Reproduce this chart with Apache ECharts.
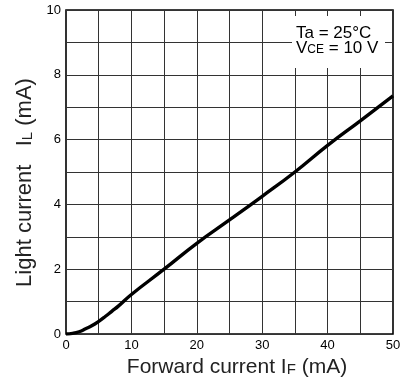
<!DOCTYPE html>
<html>
<head>
<meta charset="utf-8">
<script src="https://cdn.jsdelivr.net/npm/echarts@6/dist/echarts.min.js"></script>
<style>
html,body{margin:0;padding:0;background:#fff;}
#c{width:404px;height:383px;}
</style>
</head>
<body>
<div id="c"></div>
<script>
// Forward current IF (mA)
var forwardCurrent = [0, 1, 2, 3, 4, 5, 6, 7, 8, 10, 15, 20, 25, 30, 35, 40, 45, 50];
// Light current IL (mA)
var lightCurrent = [0, 0.02, 0.07, 0.16, 0.26, 0.39, 0.54, 0.7, 0.86, 1.22, 2.0, 2.8, 3.52, 4.25, 5.0, 5.82, 6.58, 7.35];
var xTickLabels = [0, 10, 20, 30, 40, 50];
var yTickLabels = [0, 2, 4, 6, 8, 10];

var FONT = '"Liberation Sans", Arial, Helvetica, sans-serif';
var chart = echarts.init(document.getElementById('c'), null, {renderer: 'canvas'});

var data = forwardCurrent.map(function (x, i) { return [x, lightCurrent[i]]; });

chart.setOption({
  animation: false,
  backgroundColor: '#fff',
  grid: {
    left: 66, right: 11, top: 10, bottom: 49,
    show: true, borderColor: '#000', borderWidth: 1.6, backgroundColor: 'transparent'
  },
  xAxis: {
    type: 'value', min: 0, max: 50, interval: 5,
    axisLine: {show: false},
    axisTick: {show: false},
    splitLine: {show: true, lineStyle: {color: '#333', width: 1}},
    axisLabel: {
      color: '#000', fontSize: 13, fontFamily: FONT, margin: 5,
      formatter: function (v) { return xTickLabels.indexOf(v) >= 0 ? String(v) : ''; }
    },
    name: '{n|Forward current I}{s|F}{n| (mA)}',
    nameLocation: 'middle',
    nameGap: 19,
    nameTextStyle: {
      padding: [0, 0, 0, 15],
      rich: {
        n: {fontSize: 21, fontFamily: FONT, color: '#222'},
        s: {fontSize: 15, fontFamily: FONT, color: '#222', padding: [4, 0, 0, 0]}
      }
    }
  },
  yAxis: {
    type: 'value', min: 0, max: 10, interval: 1,
    axisLine: {show: false},
    axisTick: {show: false},
    splitLine: {show: true, lineStyle: {color: '#333', width: 1}},
    axisLabel: {
      color: '#000', fontSize: 13, fontFamily: FONT, margin: 5,
      formatter: function (v) { return yTickLabels.indexOf(v) >= 0 ? String(v) : ''; }
    },
    name: '{n|Light current   I}{s|L}{n| (mA)}',
    nameLocation: 'middle',
    nameGap: 21,
    nameTextStyle: {
      padding: [0, 21, 0, 0],
      rich: {
        n: {fontSize: 22, fontFamily: FONT, color: '#222'},
        s: {fontSize: 15, fontFamily: FONT, color: '#222', padding: [7, 0, 0, 0]}
      }
    }
  },
  graphic: [{
    type: 'rect',
    left: 292, top: 16,
    shape: {width: 93, height: 52},
    style: {fill: '#fff'},
    z: 100
  }, {
    type: 'text',
    left: 296, top: 25,
    z: 101,
    style: {
      text: '{n|Ta = 25°C}\n{n|V}{s|CE}{n| = 10 V}',
      rich: {
        n: {fontSize: 17, fontFamily: FONT, fill: '#000', lineHeight: 14.5},
        s: {fontSize: 12, fontFamily: FONT, fill: '#000', lineHeight: 14.5, padding: [4, 0, 0, 0]}
      }
    }
  }],
  series: [{
    type: 'line',
    data: data,
    smooth: true,
    showSymbol: false,
    lineStyle: {color: '#000', width: 3.4},
    z: 5
  }]
});
</script>
</body>
</html>
